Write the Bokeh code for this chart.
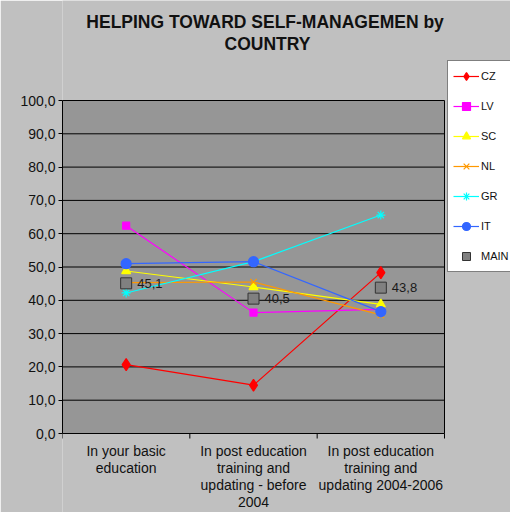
from bokeh.plotting import figure
from bokeh.models import (Range1d, FixedTicker, LinearAxis, Legend, LegendItem, Label,
                          ColumnDataSource)
from bokeh.core.properties import value
from bokeh.embed import file_html
from bokeh.resources import INLINE

categories = ["In your basic\neducation",
              "In post education\ntraining and\nupdating - before\n2004",
              "In post education\ntraining and\nupdating 2004-2006"]
cz = [20.7, 14.5, 48.3]
lv = [62.4, 36.3, 37.3]
sc = [48.8, 44.0, 38.8]
nl = [45.3, 45.5, 35.6]
gr = [42.2, 51.6, 65.6]
it = [51.0, 51.6, 36.6]
main = [45.1, 40.5, 43.8]
main_labels = ["45,1", "40,5", "43,8"]
y_ticks = [0, 10, 20, 30, 40, 50, 60, 70, 80, 90, 100]
title_lines = ["HELPING TOWARD SELF-MANAGEMEN  by", "COUNTRY"]

FONT = "Liberation Sans"
W, H = 510, 512
LEFT, TOP = 62, 100              # position of the grey plot area
PLOT_W, PLOT_H = 382, 333        # size of the grey plot area
frame_w = W - LEFT
n = len(categories)
xs = [i + 0.5 for i in range(n)]
bounds_x = list(range(n + 1))
ppu = PLOT_H / 100.0
y0 = -(H - TOP - PLOT_H) / ppu
y1 = 100 + TOP / ppu
tick_len = 5 / ppu

p = figure(width=W, height=H, output_backend="svg", toolbar_location=None,
           x_range=Range1d(0, n * frame_w / PLOT_W),
           y_range=Range1d(y0, y1),
           x_axis_type=None, y_axis_type=None,
           min_border_left=LEFT, min_border_right=0, min_border_top=0,
           min_border_bottom=0)
p.background_fill_color = "#C0C0C0"
p.border_fill_color = "#C0C0C0"
p.outline_line_color = None
p.xgrid.visible = False
p.ygrid.visible = False

# grey plot area, grid lines, frame and category ticks
p.quad(left=0, right=n, bottom=0, top=100, fill_color="#969696", line_color=None)
p.segment(x0=[0] * len(y_ticks), x1=[n] * len(y_ticks), y0=y_ticks, y1=y_ticks,
          line_color="black", line_width=1)
p.segment(x0=[0, n], x1=[0, n], y0=[0, 0], y1=[100, 100], line_color="black", line_width=1)
p.segment(x0=bounds_x, x1=bounds_x, y0=[0] * len(bounds_x), y1=[-tick_len] * len(bounds_x),
          line_color="black", line_width=1)

# category labels
p.text(x=xs, y=[0] * n, text=categories, y_offset=9, text_align="center",
       text_baseline="top", text_font=value(FONT), text_font_size="14px",
       text_color="#111111", text_line_height=1.07)

# y axis
yax = LinearAxis(ticker=FixedTicker(ticks=y_ticks, minor_ticks=[]), bounds=(0, 100))
yax.major_label_overrides = {t: f"{t:.1f}".replace(".", ",") for t in y_ticks}
yax.major_label_text_font = FONT
yax.major_label_text_font_size = "14px"
yax.major_label_text_color = "#111111"
yax.axis_line_color = "black"
yax.major_tick_line_color = "black"
yax.major_tick_out = 4
yax.major_tick_in = 0
yax.major_label_standoff = 3
p.add_layout(yax, "left")

series = [
    ("CZ", cz, "#FF0000", "diamond", 12),
    ("LV", lv, "#FF00FF", "square", 7),
    ("SC", sc, "#FFFF00", "triangle", 9),
    ("NL", nl, "#FF9900", "x", 9),
    ("GR", gr, "#00FFFF", "asterisk", 9),
    ("IT", it, "#3366FF", "circle", 10),
]

items = []
for name, vals, col, mk, sz in series:
    src = ColumnDataSource(dict(x=xs, y=vals))
    ln = p.line("x", "y", source=src, line_color=col, line_width=1.2)
    sc_r = p.scatter("x", "y", source=src, marker=mk, size=sz, fill_color=col,
                     line_color=col, line_width=1.2)
    items.append(LegendItem(label=name, renderers=[ln, sc_r]))

msrc = ColumnDataSource(dict(x=xs, y=main, lab=main_labels))
mr = p.scatter("x", "y", source=msrc, marker="square", size=11, fill_color="#808080",
               line_color="#333333", line_width=1)
p.text("x", "y", text="lab", source=msrc, x_offset=11, text_baseline="middle",
       text_align="left", text_font=value(FONT), text_font_size="13px", text_color="#1a1a1a")
items.append(LegendItem(label="MAIN", renderers=[mr]))

legend = Legend(items=items, location=(385, 240))
legend.label_text_font = FONT
legend.label_text_font_size = "11px"
legend.label_text_color = "#111111"
legend.glyph_width = 26
legend.glyph_height = 20
legend.label_height = 20
legend.spacing = 10
legend.padding = 5
legend.margin = 0
legend.label_standoff = 2
legend.border_line_color = "black"
legend.border_line_width = 1
legend.background_fill_color = "white"
legend.background_fill_alpha = 1
p.add_layout(legend)

for i, txt in enumerate(title_lines):
    p.add_layout(Label(x=205, y=H - 21 - 22 * i, x_units="screen", y_units="screen",
                       text=txt, text_align="center", text_baseline="middle",
                       text_font=FONT, text_font_size="17.5px", text_font_style="bold",
                       text_color="#111111"))

open("out.html", "w").write(file_html(p, INLINE))
